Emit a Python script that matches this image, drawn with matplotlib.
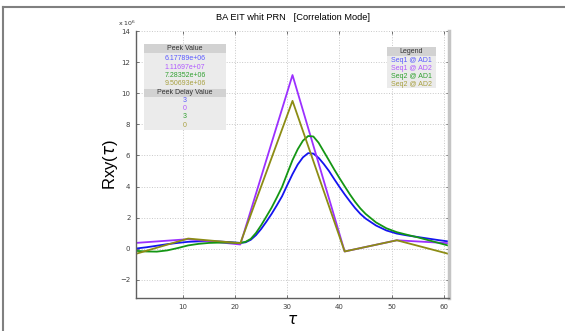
import numpy as np
import matplotlib.pyplot as plt
from matplotlib.lines import Line2D
from matplotlib.patches import Rectangle

# data (values in units of 1e6)
tau_knots = [1, 11, 21, 31, 41, 51, 61]
seq1_ad2 = [0.38, 0.62, 0.28, 11.17, -0.17, 0.55, 0.36]
seq2_ad2 = [-0.32, 0.66, 0.36, 9.51, -0.17, 0.55, -0.33]

tau_smooth = [1, 3, 5, 7, 9, 11, 13, 15, 17, 19, 21, 22, 23, 24, 25, 26, 27, 28, 29,
              30, 31, 32, 33, 34, 35, 36, 37, 38, 39, 40, 41, 42, 43, 44, 45, 47, 49,
              51, 53, 55, 57, 59, 61]
seq1_ad1 = [0.02, 0.1, 0.2, 0.3, 0.38, 0.45, 0.48, 0.49, 0.47, 0.43, 0.38, 0.42, 0.58,
            0.88, 1.28, 1.75, 2.25, 2.8, 3.38, 4.1, 4.8, 5.42, 5.88, 6.15, 6.12, 5.85,
            5.45, 5.0, 4.48, 3.98, 3.5, 3.05, 2.62, 2.25, 1.95, 1.5, 1.18, 0.98, 0.86,
            0.76, 0.66, 0.56, 0.47]
seq2_ad1 = [-0.13, -0.17, -0.18, -0.1, 0.05, 0.22, 0.32, 0.38, 0.4, 0.4, 0.38, 0.45,
            0.64, 1.02, 1.52, 2.08, 2.65, 3.3, 3.98, 4.85, 5.7, 6.4, 6.95, 7.25, 7.22,
            6.82, 6.25, 5.68, 5.1, 4.55, 4.02, 3.5, 3.02, 2.6, 2.25, 1.7, 1.32, 1.07,
            0.9, 0.74, 0.56, 0.38, 0.2]

peak_values = ['6.17789e+06', '1.11697e+07', '7.28352e+06', '9.50693e+06']
peak_delays = ['3', '0', '3', '0']
legend_labels = ['Seq1 @ AD1', 'Seq1 @ AD2', 'Seq2 @ AD1', 'Seq2 @ AD2']

line_colors = ['#1414f0', '#9b30ff', '#149614', '#8c8c14']
text_colors = ['#5a5aff', '#b05aff', '#30a030', '#a8a040']

fig = plt.figure(figsize=(5.65, 3.31), dpi=100)
ax = fig.add_axes([136/565, 33/331, 313/565, 267/331])

ax.plot(tau_smooth, seq1_ad1, color=line_colors[0], lw=1.3)
ax.plot(tau_knots, seq1_ad2, color=line_colors[1], lw=1.3)
ax.plot(tau_smooth, seq2_ad1, color=line_colors[2], lw=1.3)
ax.plot(tau_knots, seq2_ad2, color=line_colors[3], lw=1.3)

ax.set_xlim(1, 61)
ax.set_ylim(-3.16, 14)
ax.set_xticks([10, 20, 30, 40, 50, 60])
ax.set_yticks(np.arange(-2, 15, 2))
ax.tick_params(labelsize=5, direction='in', length=2.5, width=0.5,
               top=True, right=True, pad=4, colors='#404040')
ax.grid(True, linestyle=':', color='#c8c8c8', lw=0.7)

for side in ['left', 'bottom']:
    ax.spines[side].set_color('#606060')
    ax.spines[side].set_linewidth(1.0)
ax.spines['right'].set_color('#c4c4c4')
ax.spines['right'].set_linewidth(2.5)
ax.spines['top'].set_visible(False)

ax.set_title('BA EIT whit PRN   [Correlation Mode]', fontsize=6.7, pad=8,
             family='Liberation Sans')
ax.set_ylabel(r'Rxy($\tau$)', fontsize=12, family='Liberation Sans', labelpad=0)
ax.set_xlabel(r'$\tau$', fontsize=11, labelpad=2)
ax.text(0.0, 1.012, r'x 10$^6$', transform=ax.transAxes, fontsize=4.5,
        ha='right', va='bottom', color='#303030')

# info boxes in pixel coordinates
def px(x, y):
    return x / 565, 1 - y / 331

def box(x0, y0, x1, y1, color):
    xa, ya = px(x0, y1)
    fig.add_artist(Rectangle((xa, ya), (x1 - x0) / 565, (y1 - y0) / 331,
                             transform=fig.transFigure, color=color, lw=0))

def label(x, y, s, c):
    xa, ya = px(x, y)
    fig.text(xa, ya, s, fontsize=5, color=c, ha='center', va='center',
             family='Liberation Sans')

box(144, 44, 226, 130, '#ebebeb')
box(144, 44, 226, 52.5, '#d2d2d2')
box(144, 88.5, 226, 97, '#d2d2d2')
label(185, 48.5, 'Peek Value', '#303030')
label(185, 93, 'Peek Delay Value', '#303030')
for i in range(4):
    label(185, 59 + 8.2 * i, peak_values[i], text_colors[i])
    label(185, 100.5 + 8.2 * i, peak_delays[i], text_colors[i])

box(387, 47, 436, 88, '#ebebeb')
box(387, 47, 436, 55.5, '#d2d2d2')
label(411.5, 51.5, 'Legend', '#303030')
for i in range(4):
    label(411.5, 60 + 8 * i, legend_labels[i], text_colors[i])

# outer frame lines (top and left)
fig.add_artist(Line2D([2.5 / 565, 1], [1 - 7 / 331, 1 - 7 / 331],
                      transform=fig.transFigure, color='#808080', lw=1.5))
fig.add_artist(Line2D([2.5 / 565, 2.5 / 565], [0, 1 - 7 / 331],
                      transform=fig.transFigure, color='#808080', lw=1.5))

plt.savefig('out.png', dpi=100)
